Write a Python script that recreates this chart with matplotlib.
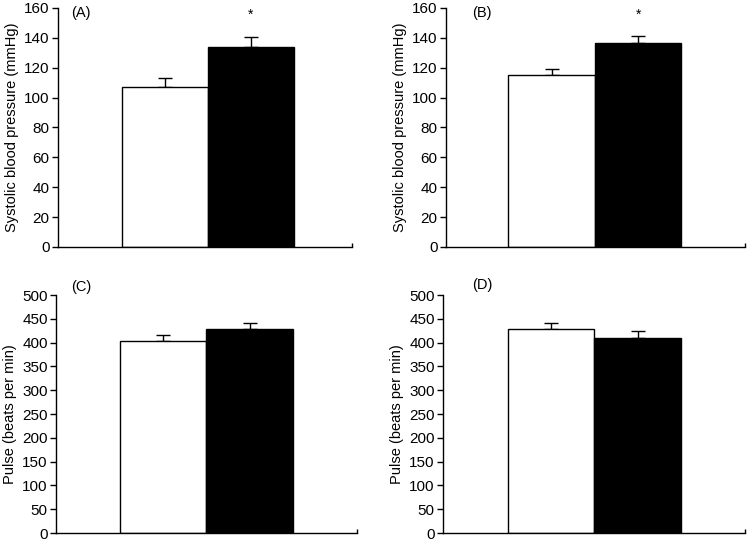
import numpy as np
import matplotlib
matplotlib.use("Agg")
import matplotlib.pyplot as plt

plt.rcParams['font.family'] = ['Liberation Sans', 'DejaVu Sans']

# values: (white bar, black bar)
panels = ['(A)', '(B)', '(C)', '(D)']
means = [[107, 134], [115, 136.5], [403, 428], [429, 410]]
errors = [[6, 6.5], [4, 5], [12, 13], [13, 14]]
signif = [[False, True], [False, True], [False, False], [False, False]]
ylabels = ['Systolic blood pressure (mmHg)', 'Systolic blood pressure (mmHg)',
           'Pulse (beats per min)', 'Pulse (beats per min)']
ymax = [160, 160, 500, 500]
ystep = [20, 20, 50, 50]

# axes boxes in figure fraction (left, bottom, width, height)
boxes = [[0.0773, 0.547, 0.392, 0.4385],
         [0.5947, 0.547, 0.399, 0.4385],
         [0.0747, 0.022, 0.401, 0.4367],
         [0.5907, 0.022, 0.4027, 0.4367]]
label_pos = [(0.044, 0.98), (0.087, 0.98), (0.05, 1.034), (0.096, 1.04)]
xlims = [(-1.24, 2.18), (-1.22, 2.24), (-1.24, 2.24), (-1.25, 2.24)]

fig = plt.figure(figsize=(7.5, 5.45), dpi=100)
x = np.arange(2)
for i in range(4):
    ax = fig.add_axes(boxes[i])
    ax.bar(x, means[i], width=1.0, color=['white', 'black'],
           edgecolor='black', linewidth=1.0, zorder=2)
    ax.errorbar(x, means[i], yerr=[[0, 0], errors[i]], fmt='none',
                ecolor='black', elinewidth=1.0, capsize=5, capthick=1.0, zorder=1)
    for j in range(2):
        if signif[i][j]:
            ax.text(x[j], ymax[i] * 0.97, '*', ha='center', va='center', fontsize=10)
    ax.set_xlim(*xlims[i])
    ax.set_ylim(0, ymax[i])
    ax.set_yticks(np.arange(0, ymax[i] + 1, ystep[i]))
    ax.set_xticks([xlims[i][1]])
    ax.set_xticklabels([''])
    ax.tick_params(axis='x', direction='in', length=3, width=1)
    ax.tick_params(axis='y', direction='out', length=4, width=1, labelsize=11, pad=2)
    ax.spines['top'].set_visible(False)
    ax.spines['right'].set_visible(False)
    ax.spines['left'].set_linewidth(1)
    ax.spines['bottom'].set_linewidth(1)
    ax.set_ylabel(ylabels[i], fontsize=10.5, labelpad=4)
    ax.text(label_pos[i][0], label_pos[i][1], panels[i], transform=ax.transAxes,
            ha='left', va='center', fontsize=10.5)

fig.savefig('out.png', dpi=100)
